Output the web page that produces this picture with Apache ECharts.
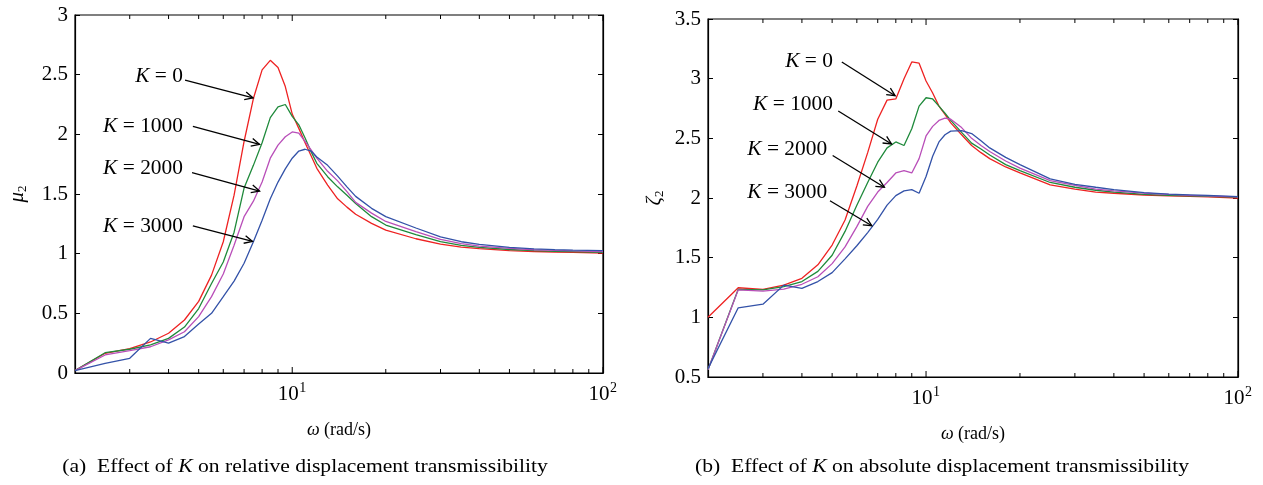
<!DOCTYPE html>
<html>
<head>
<meta charset="utf-8">
<script src="https://cdn.jsdelivr.net/npm/echarts@6/dist/echarts.min.js"></script>
<style>
  html, body { margin: 0; padding: 0; background: #fff; }
  #chart { width: 1263px; height: 485px; }
</style>
</head>
<body>
<div id="chart"></div>
<script>
// Excitation frequency (rad/s)
const omega = [2, 2.5, 3, 3.5, 4, 4.5, 5, 5.5, 6, 6.5, 7, 7.5, 8, 8.5, 9, 9.5, 10, 10.5, 11, 11.5,
               12, 13, 14, 15, 16, 18, 20, 25, 30, 35, 40, 50, 60, 70, 80, 100];

// (a) relative displacement transmissibility mu2
const relK0    = [0.02, 0.165, 0.205, 0.26, 0.333, 0.444, 0.60, 0.82, 1.10, 1.49, 1.94, 2.30, 2.54, 2.62, 2.56, 2.40, 2.17, 2.05, 1.93, 1.82,
                  1.715, 1.575, 1.46, 1.39, 1.33, 1.254, 1.198, 1.125, 1.08, 1.055, 1.042, 1.025, 1.018, 1.014, 1.012, 1.005];
const relK1000 = [0.02, 0.17, 0.199, 0.235, 0.29, 0.385, 0.54, 0.75, 0.93, 1.18, 1.55, 1.74, 1.93, 2.14, 2.23, 2.25, 2.15, 2.08, 1.97, 1.855,
                  1.757, 1.645, 1.56, 1.49, 1.42, 1.31, 1.24, 1.16, 1.10, 1.07, 1.053, 1.035, 1.025, 1.02, 1.017, 1.012];
const relK2000 = [0.02, 0.151, 0.187, 0.22, 0.277, 0.346, 0.472, 0.64, 0.83, 1.07, 1.31, 1.44, 1.60, 1.80, 1.91, 1.98, 2.02, 2.01, 1.94, 1.87,
                  1.80, 1.69, 1.61, 1.52, 1.43, 1.34, 1.27, 1.185, 1.12, 1.085, 1.064, 1.045, 1.033, 1.027, 1.023, 1.018];
const relK3000 = [0.02, 0.08, 0.123, 0.29, 0.25, 0.305, 0.41, 0.50, 0.64, 0.77, 0.92, 1.10, 1.28, 1.46, 1.60, 1.71, 1.80, 1.86, 1.875, 1.86,
                  1.81, 1.74, 1.65, 1.56, 1.48, 1.38, 1.31, 1.215, 1.14, 1.10, 1.078, 1.053, 1.04, 1.034, 1.03, 1.025];

// (b) absolute displacement transmissibility zeta2
const absK0    = [1.0, 1.248, 1.235, 1.27, 1.327, 1.44, 1.606, 1.816, 2.10, 2.38, 2.66, 2.82, 2.83, 3.0, 3.14, 3.13, 2.98, 2.88, 2.77, 2.70,
                  2.63, 2.53, 2.44, 2.38, 2.33, 2.26, 2.21, 2.11, 2.075, 2.05, 2.04, 2.025, 2.018, 2.013, 2.01, 2.0];
const absK1000 = [0.56, 1.235, 1.23, 1.257, 1.30, 1.385, 1.52, 1.72, 1.94, 2.13, 2.30, 2.42, 2.47, 2.44, 2.58, 2.77, 2.84, 2.83, 2.77, 2.71,
                  2.65, 2.55, 2.46, 2.41, 2.36, 2.28, 2.23, 2.13, 2.09, 2.065, 2.05, 2.03, 2.022, 2.018, 2.014, 2.008];
const absK2000 = [0.56, 1.23, 1.22, 1.237, 1.277, 1.34, 1.45, 1.59, 1.76, 1.93, 2.05, 2.13, 2.21, 2.23, 2.21, 2.33, 2.52, 2.60, 2.65, 2.67,
                  2.66, 2.59, 2.50, 2.44, 2.39, 2.31, 2.25, 2.145, 2.105, 2.075, 2.06, 2.04, 2.03, 2.022, 2.018, 2.01];
const absK3000 = [0.57, 1.08, 1.11, 1.27, 1.243, 1.30, 1.375, 1.49, 1.60, 1.71, 1.82, 1.94, 2.02, 2.06, 2.07, 2.04, 2.18, 2.35, 2.47, 2.53,
                  2.56, 2.565, 2.54, 2.48, 2.42, 2.34, 2.28, 2.16, 2.115, 2.09, 2.07, 2.045, 2.033, 2.027, 2.022, 2.012];

const stiffness = ['0', '1000', '2000', '3000'];
const lineColors = ['#ee2222', '#1f8a3b', '#b94fb9', '#3352a8'];

// log-axis ticks and their labels
const xMinorTicks = [3, 4, 5, 6, 7, 8, 9, 20, 30, 40, 50, 60, 70, 80, 90];
const xMajorTicks = [10, 100];
const xTickBase = ['10', '10'];
const xTickExp = ['1', '2'];

// arrow annotations: [label right edge], [arrow tail], [arrow head] in data units
const relLabelAt = [[4.45, 2.485], [4.45, 2.061], [4.45, 1.714], [4.45, 1.228]];
const relTail    = [[4.52, 2.455], [4.79, 2.066], [4.76, 1.680], [4.79, 1.232]];
const relHead    = [[7.48, 2.305], [7.85, 1.915], [7.85, 1.525], [7.45, 1.102]];
const absLabelAt = [[5.03, 3.14], [5.03, 2.779], [4.82, 2.402], [4.82, 2.042]];
const absTail    = [[5.37, 3.14], [5.23, 2.729], [5.02, 2.356], [4.92, 1.977]];
const absHead    = [[7.96, 2.857], [7.75, 2.453], [7.35, 2.09], [6.70, 1.768]];

const relRange = [0, 3];
const absRange = [0.5, 3.5];

const SERIF = '"Liberation Serif", "Times New Roman", serif';
const chart = echarts.init(document.getElementById('chart'), null, { renderer: 'canvas' });

function xAxisDef(gridIndex) {
  return {
    type: 'log', logBase: 10, gridIndex, min: 2, max: 100,
    axisLine: { show: true, lineStyle: { color: '#000', width: 1.2 } },
    axisTick: { show: false }, axisLabel: { show: false }, splitLine: { show: false },
    name: '{i|ω} (rad/s)', nameLocation: 'middle', nameGap: 48,
    nameTextStyle: {
      fontFamily: SERIF, fontSize: 18, color: '#000',
      rich: { i: { fontFamily: SERIF, fontSize: 18, fontStyle: 'italic', color: '#000' } }
    }
  };
}

function yAxisDef(gridIndex, range, right, name, gap) {
  const ax = {
    type: 'value', gridIndex, min: range[0], max: range[1], interval: 0.5,
    position: right ? 'right' : 'left',
    axisLine: { show: true, lineStyle: { color: '#000', width: 1.2 } },
    axisTick: { show: true, inside: true, length: 5, lineStyle: { color: '#000', width: 1 } },
    axisLabel: { show: !right, margin: 7, fontFamily: SERIF, fontSize: 21, color: '#000' },
    splitLine: { show: false }
  };
  if (!right) {
    ax.name = name;
    ax.nameLocation = 'middle';
    ax.nameRotate = 90;
    ax.nameGap = gap;
    ax.nameTextStyle = {
      color: '#000',
      rich: {
        i: { fontFamily: SERIF, fontSize: 21, fontStyle: 'italic', color: '#000' },
        s: { fontFamily: SERIF, fontSize: 13, color: '#000', padding: [10, 0, 0, 0] }
      }
    };
  }
  return ax;
}

function tickLabelSeries(gridIndex, range) {
  return {
    type: 'custom', xAxisIndex: gridIndex, yAxisIndex: gridIndex * 2, silent: true, clip: false, z: 5,
    data: xMajorTicks.map((v, i) => [v, i]), encode: { x: 0 },
    renderItem(params, api) {
      const v = api.value(0), i = api.value(1);
      const b = api.coord([v, range[0]]);
      return {
        type: 'group', children: [
          { type: 'text', x: b[0] - 4, y: b[1] + 11,
            style: { text: xTickBase[i], fontFamily: SERIF, fontSize: 21, fill: '#000', align: 'center', verticalAlign: 'top' } },
          { type: 'text', x: b[0] + 7, y: b[1] + 8,
            style: { text: xTickExp[i], fontFamily: SERIF, fontSize: 14, fill: '#000', align: 'left', verticalAlign: 'top' } }
        ]
      };
    }
  };
}

function curveSeries(gridIndex, values, k) {
  return {
    name: 'K = ' + stiffness[k], type: 'line', xAxisIndex: gridIndex, yAxisIndex: gridIndex * 2,
    data: omega.map((w, i) => [w, values[i]]),
    showSymbol: false, symbol: 'none', smooth: false, z: 3,
    lineStyle: { color: lineColors[k], width: 1.3 }, itemStyle: { color: lineColors[k] }
  };
}

const relCurves = [relK0, relK1000, relK2000, relK3000];
const absCurves = [absK0, absK1000, absK2000, absK3000];

chart.setOption({
  animation: false,
  backgroundColor: '#fff',
  grid: [
    { left: 75, top: 15, width: 528, height: 358, show: true, borderColor: '#000', borderWidth: 1.2, containLabel: false },
    { left: 708, top: 19, width: 530, height: 358, show: true, borderColor: '#000', borderWidth: 1.2, containLabel: false }
  ],
  xAxis: [xAxisDef(0), xAxisDef(1)],
  yAxis: [
    yAxisDef(0, relRange, false, '{i|μ}{s|2}', 46),
    yAxisDef(0, relRange, true),
    yAxisDef(1, absRange, false, '{i|ζ}{s|2}', 42),
    yAxisDef(1, absRange, true)
  ],
  series: [
    ...relCurves.map((arr, k) => curveSeries(0, arr, k)),
    ...absCurves.map((arr, k) => curveSeries(1, arr, k)),
    tickLabelSeries(0, relRange), tickLabelSeries(1, absRange)
  ]
});

// inward log-axis ticks on the bottom and top edges of each frame
function logTicks(gridIndex, range) {
  const els = [];
  const toPx = p => chart.convertToPixel({ gridIndex }, p);
  const add = (v, len) => {
    const b = toPx([v, range[0]]);
    const t = toPx([v, range[1]]);
    els.push({ type: 'line', silent: true, z: 8, shape: { x1: b[0], y1: b[1], x2: b[0], y2: b[1] - len }, style: { stroke: '#000', lineWidth: 1 } });
    els.push({ type: 'line', silent: true, z: 8, shape: { x1: t[0], y1: t[1], x2: t[0], y2: t[1] + len }, style: { stroke: '#000', lineWidth: 1 } });
  };
  xMinorTicks.forEach(v => add(v, 4));
  xMajorTicks.forEach(v => add(v, 6));
  return els;
}

// "K = ..." labels with open-headed arrows pointing at the curves
function annotations(gridIndex, labelAt, tail, head) {
  const els = [];
  const toPx = p => chart.convertToPixel({ gridIndex }, p);
  stiffness.forEach((k, i) => {
    const lp = toPx(labelAt[i]);
    const tp = toPx(tail[i]);
    const hp = toPx(head[i]);
    els.push({
      type: 'text', x: lp[0], y: lp[1], silent: true, z: 10, scaleX: 1.07,
      style: {
        text: '{i|K} = ' + k, fontFamily: SERIF, fontSize: 20, fill: '#000', align: 'right', verticalAlign: 'middle',
        rich: { i: { fontFamily: SERIF, fontSize: 20, fontStyle: 'italic', fill: '#000' } }
      }
    });
    const ang = Math.atan2(hp[1] - tp[1], hp[0] - tp[0]);
    const L = 9, a = 0.45;
    els.push({ type: 'line', silent: true, z: 10, shape: { x1: tp[0], y1: tp[1], x2: hp[0], y2: hp[1] }, style: { stroke: '#000', lineWidth: 1.3 } });
    els.push({
      type: 'polyline', silent: true, z: 10,
      shape: { points: [
        [hp[0] - L * Math.cos(ang - a), hp[1] - L * Math.sin(ang - a)],
        [hp[0], hp[1]],
        [hp[0] - L * Math.cos(ang + a), hp[1] - L * Math.sin(ang + a)]
      ] },
      style: { stroke: '#000', lineWidth: 1.3, fill: null }
    });
  });
  return els;
}

function captionStyle(text) {
  return {
    text, fontFamily: SERIF, fontSize: 18, fill: '#000', align: 'center', verticalAlign: 'middle',
    rich: { i: { fontFamily: SERIF, fontSize: 18, fontStyle: 'italic', fill: '#000' } }
  };
}

chart.setOption({
  graphic: [
    ...logTicks(0, relRange),
    ...logTicks(1, absRange),
    ...annotations(0, relLabelAt, relTail, relHead),
    ...annotations(1, absLabelAt, absTail, absHead),
    { type: 'text', x: 305, y: 467, silent: true, scaleX: 1.2,
      style: captionStyle('(a)  Effect of {i|K} on relative displacement transmissibility') },
    { type: 'text', x: 942, y: 467, silent: true, scaleX: 1.2,
      style: captionStyle('(b)  Effect of {i|K} on absolute displacement transmissibility') }
  ]
});
</script>
</body>
</html>
